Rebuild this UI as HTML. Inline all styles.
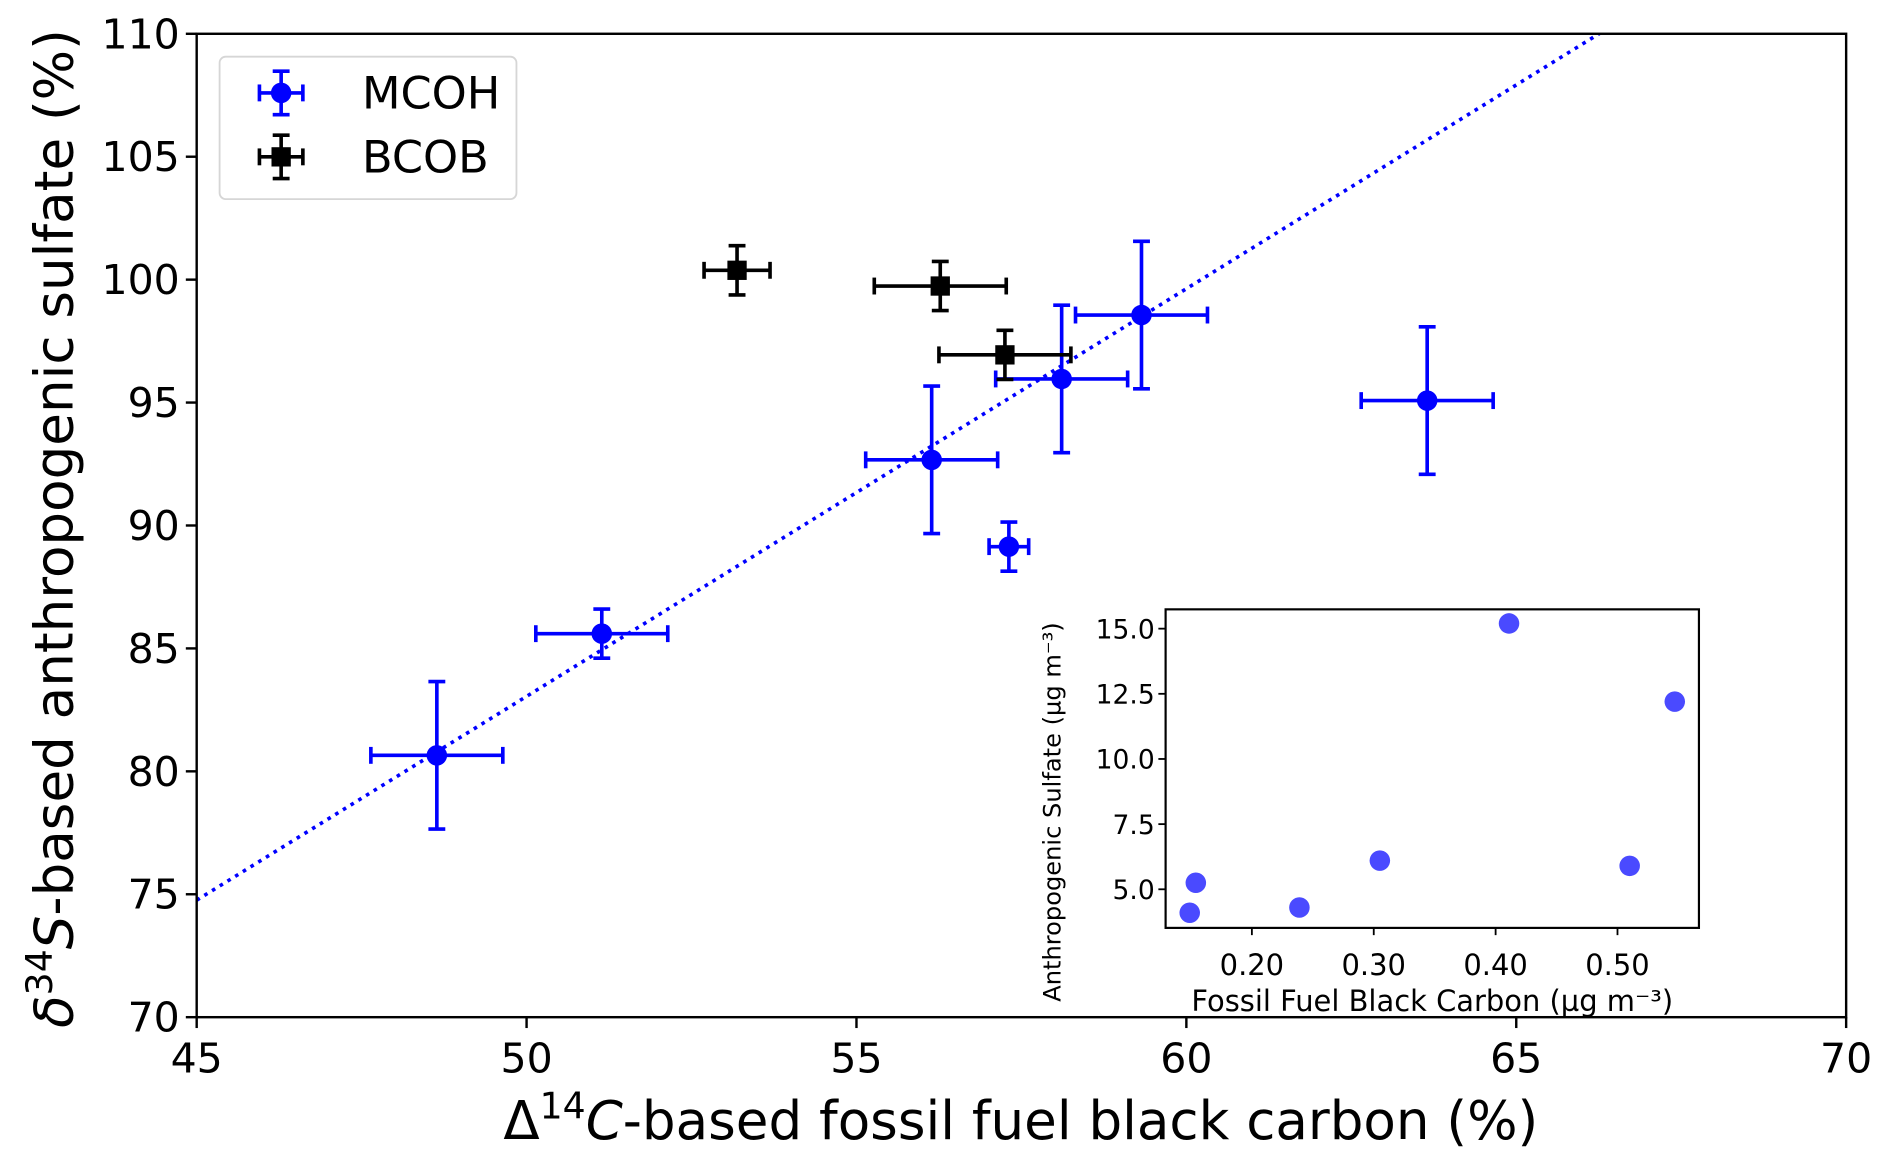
<!DOCTYPE html>
<html><head><meta charset="utf-8"><style>
html,body{margin:0;padding:0;background:#fff;}
svg{display:block;font-family:"DejaVu Sans","Liberation Sans",sans-serif;}
</style></head><body>
<svg id="chart" width="1892" height="1165" viewBox="0 0 1568 965.5" xmlns="http://www.w3.org/2000/svg">
<rect x="0" y="0" width="1568" height="965.5" fill="#fff"/>
<g id="main"></g>
<g id="inset"></g>
</svg>
<script>
// main chart data
const mcohX = [48.64, 51.14, 56.14, 57.31, 58.11, 59.32, 63.65];
const mcohY = [80.65, 85.6, 92.67, 89.14, 95.96, 98.56, 95.08];
const mcohXErr = [1.0, 1.0, 1.0, 0.3, 1.0, 1.0, 1.0];
const mcohYErr = [3.0, 1.0, 3.0, 1.0, 3.0, 3.0, 3.0];
const bcobX = [53.19, 56.27, 57.25];
const bcobY = [100.38, 99.74, 96.94];
const bcobXErr = [0.5, 1.0, 1.0];
const bcobYErr = [1.0, 1.0, 1.0];
const fitSlope = [1.658];
const fitIntercept = [74.76 - 1.658 * 45];
const xTicks = [45, 50, 55, 60, 65, 70];
const yTicks = [70, 75, 80, 85, 90, 95, 100, 105, 110];
// inset data
const insetX = [0.149, 0.154, 0.239, 0.305, 0.411, 0.510, 0.547];
const insetY = [4.1, 5.25, 4.3, 6.1, 15.2, 5.9, 12.2];
const insetXTicks = [0.20, 0.30, 0.40, 0.50];
const insetYTicks = [5.0, 7.5, 10.0, 12.5, 15.0];

const NS = "http://www.w3.org/2000/svg";
function mk(parent, tag, attrs, text) {
  const e = document.createElementNS(NS, tag);
  for (const k in attrs) e.setAttribute(k, attrs[k]);
  if (text !== undefined) e.textContent = text;
  parent.appendChild(e);
  return e;
}
const L = 163, R = 1530, T = 28, B = 843;
const sx = v => L + (v - 45) / 25 * (R - L);
const sy = v => B - (v - 70) / 40 * (B - T);
const main = document.getElementById('main');

const cpath = mk(main, 'clipPath', {id: 'clipMain'});
mk(cpath, 'rect', {x: L, y: T, width: R - L, height: B - T});
const fx1 = 45, fx2 = 70;
const fit = mk(main, 'line', {x1: sx(fx1), y1: sy(fitSlope[0] * fx1 + fitIntercept[0]), x2: sx(fx2), y2: sy(fitSlope[0] * fx2 + fitIntercept[0]), stroke: '#0000ff', 'stroke-width': 3, 'stroke-dasharray': '3,4.5', 'clip-path': 'url(#clipMain)'});



function errbar(g, x, y, ex, ey, color) {
  const cap = 7;
  mk(g, 'line', {x1: sx(x - ex), x2: sx(x + ex), y1: sy(y), y2: sy(y), stroke: color, 'stroke-width': 3});
  mk(g, 'line', {x1: sx(x - ex), x2: sx(x - ex), y1: sy(y) - cap, y2: sy(y) + cap, stroke: color, 'stroke-width': 3});
  mk(g, 'line', {x1: sx(x + ex), x2: sx(x + ex), y1: sy(y) - cap, y2: sy(y) + cap, stroke: color, 'stroke-width': 3});
  mk(g, 'line', {x1: sx(x), x2: sx(x), y1: sy(y - ey), y2: sy(y + ey), stroke: color, 'stroke-width': 3});
  mk(g, 'line', {x1: sx(x) - cap, x2: sx(x) + cap, y1: sy(y - ey), y2: sy(y - ey), stroke: color, 'stroke-width': 3});
  mk(g, 'line', {x1: sx(x) - cap, x2: sx(x) + cap, y1: sy(y + ey), y2: sy(y + ey), stroke: color, 'stroke-width': 3});
}
mcohX.forEach((x, i) => {
  const g = mk(main, 'g', {});
  
  
  errbar(g, x, mcohY[i], mcohXErr[i], mcohYErr[i], '#0000ff');
  mk(g, 'circle', {cx: sx(x), cy: sy(mcohY[i]), r: 8.5, fill: '#0000ff'});
});
bcobX.forEach((x, i) => {
  const g = mk(main, 'g', {});
  
  
  errbar(g, x, bcobY[i], bcobXErr[i], bcobYErr[i], '#000');
  mk(g, 'rect', {x: sx(x) - 8, y: sy(bcobY[i]) - 8, width: 16, height: 16, fill: '#000'});
});

const frame = mk(main, 'rect', {x: L, y: T, width: R - L, height: B - T, fill: 'none', stroke: '#000', 'stroke-width': 2});


xTicks.forEach(v => {
  mk(main, 'line', {x1: sx(v), x2: sx(v), y1: B, y2: B + 9, stroke: '#000', 'stroke-width': 2});
  const t = mk(main, 'text', {x: sx(v), y: B + 46, 'font-size': 34, 'text-anchor': 'middle'}, String(v));
  
  
});
yTicks.forEach(v => {
  mk(main, 'line', {x1: L - 9, x2: L, y1: sy(v), y2: sy(v), stroke: '#000', 'stroke-width': 2});
  const t = mk(main, 'text', {x: L - 14, y: sy(v) + 12, 'font-size': 34, 'text-anchor': 'end'}, String(v));
  
  
});
const xt = mk(main, 'text', {x: 846, y: 944, 'font-size': 44, 'text-anchor': 'middle'});
xt.innerHTML = 'Δ<tspan dy="-17" font-size="30">14</tspan><tspan dy="17" font-style="italic">C</tspan>-based fossil fuel black carbon (%)';


const yt = mk(main, 'text', {x: 0, y: 0, 'font-size': 44, 'text-anchor': 'middle', transform: 'translate(60,438) rotate(-90)'});
yt.innerHTML = '<tspan font-style="italic">δ</tspan><tspan dy="-17" font-size="30">34</tspan><tspan dy="17" font-style="italic">S</tspan>-based anthropogenic sulfate (%)';



const lg = mk(main, 'g', {});


mk(lg, 'rect', {x: 182, y: 47, width: 246, height: 118, rx: 5, fill: '#fff', stroke: '#d6d6d6', 'stroke-width': 1.5});
function legMarker(cy, color, square) {
  const cx = 233;
  mk(lg, 'line', {x1: cx - 18, x2: cx + 18, y1: cy, y2: cy, stroke: color, 'stroke-width': 3});
  mk(lg, 'line', {x1: cx - 18, x2: cx - 18, y1: cy - 7, y2: cy + 7, stroke: color, 'stroke-width': 3});
  mk(lg, 'line', {x1: cx + 18, x2: cx + 18, y1: cy - 7, y2: cy + 7, stroke: color, 'stroke-width': 3});
  mk(lg, 'line', {x1: cx, x2: cx, y1: cy - 18, y2: cy + 18, stroke: color, 'stroke-width': 3});
  mk(lg, 'line', {x1: cx - 7, x2: cx + 7, y1: cy - 18, y2: cy - 18, stroke: color, 'stroke-width': 3});
  mk(lg, 'line', {x1: cx - 7, x2: cx + 7, y1: cy + 18, y2: cy + 18, stroke: color, 'stroke-width': 3});
  if (square) mk(lg, 'rect', {x: cx - 8, y: cy - 8, width: 16, height: 16, fill: color});
  else mk(lg, 'circle', {cx: cx, cy: cy, r: 8.5, fill: color});
}
legMarker(77, '#0000ff', false);
legMarker(130, '#000', true);
const l1 = mk(lg, 'text', {x: 300, y: 90, 'font-size': 37}, 'MCOH');


const l2 = mk(lg, 'text', {x: 300, y: 143, 'font-size': 37}, 'BCOB');



// inset
const ins = document.getElementById('inset');
const iL = 966, iR = 1408, iT = 505, iB = 769;
const isx = v => 1037.5 + (v - 0.2) * 1010;
const isy = v => 521 + (15 - v) * 21.6;
mk(ins, 'rect', {x: iL, y: iT, width: iR - iL, height: iB - iT, fill: '#fff', stroke: '#000', 'stroke-width': 1.8});
insetX.forEach((x, i) => {
  const c = mk(ins, 'circle', {cx: isx(x), cy: isy(insetY[i]), r: 8.5, fill: '#4a4aff'});
  
  
});
insetXTicks.forEach(v => {
  mk(ins, 'line', {x1: isx(v), x2: isx(v), y1: iB, y2: iB + 6, stroke: '#000', 'stroke-width': 1.5});
  const t = mk(ins, 'text', {x: isx(v), y: iB + 39, 'font-size': 24, 'text-anchor': 'middle'}, v.toFixed(2));
  
  
});
insetYTicks.forEach(v => {
  mk(ins, 'line', {x1: iL - 6, x2: iL, y1: isy(v), y2: isy(v), stroke: '#000', 'stroke-width': 1.5});
  const t = mk(ins, 'text', {x: iL - 9, y: isy(v) + 8, 'font-size': 22, 'text-anchor': 'end'}, v.toFixed(1));
  
  
});
const ixt = mk(ins, 'text', {x: 1187, y: 838, 'font-size': 24, 'text-anchor': 'middle'}, 'Fossil Fuel Black Carbon (µg m⁻³)');


const iyt = mk(ins, 'text', {x: 0, y: 0, 'font-size': 20, 'text-anchor': 'middle', transform: 'translate(879,673) rotate(-90)'}, 'Anthropogenic Sulfate (µg m⁻³)');


</script>
</body></html>
